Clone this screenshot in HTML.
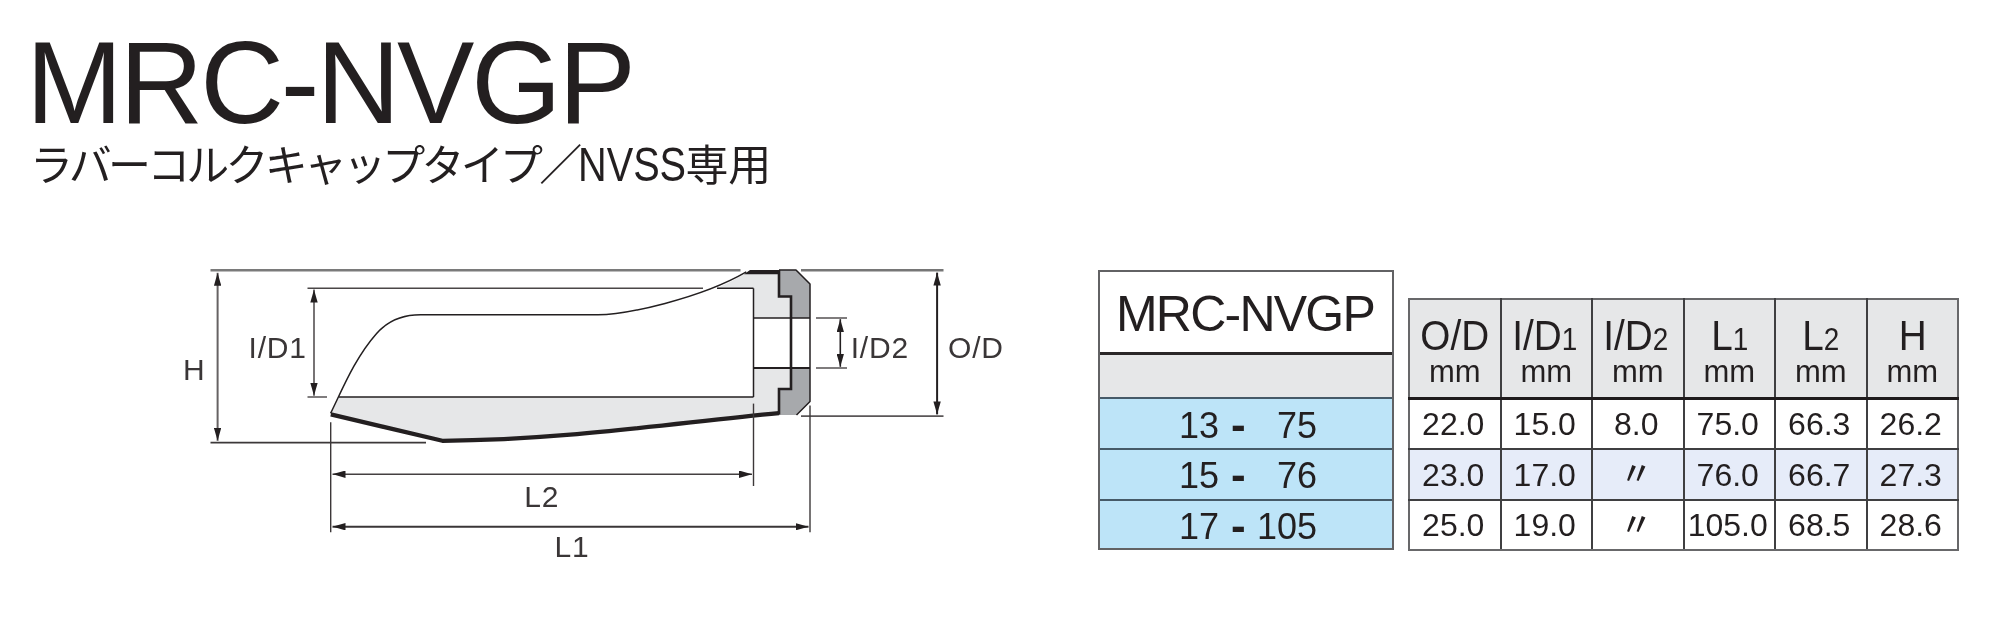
<!DOCTYPE html>
<html lang="ja">
<head>
<meta charset="utf-8">
<title>MRC-NVGP</title>
<style>
  html, body { margin: 0; padding: 0; background: #ffffff; }
  body { width: 2000px; height: 620px; position: relative; overflow: hidden;
         font-family: "Liberation Sans", "Noto Sans CJK JP", sans-serif; color: #231f20; }
  .abs { position: absolute; white-space: nowrap; will-change: transform; }

  /* ---------- heading ---------- */
  #title { left: 25.5px; top: 23px; font-size: 116px; line-height: 120px; letter-spacing: -3.1px; color: #231f20; }
  #subtitle { left: 29.5px; top: 132px; font-size: 43px; line-height: 64px; color: #231f20; font-weight: 400; }
  #subtitle .kana { letter-spacing: -3.8px; }
  #subtitle .lat { display: inline-block; font-size: 49px; transform-origin: 0 100%; transform: scaleX(0.81);
                   width: 107px; vertical-align: baseline; }
  #subtitle .kanji { letter-spacing: 0px; }

  /* ---------- diagram ---------- */
  #diagram { left: 0; top: 0; width: 2000px; height: 620px; }
  #diagram text { font-family: "Liberation Sans", sans-serif; font-size: 30px; letter-spacing: 0.8px; fill: #3a3637; }

  /* ---------- left (model) table ---------- */
  #models { left: 1098px; top: 270px; width: 296px; height: 280px; box-sizing: border-box;
            border: 2px solid #626264; background: #fff; }
  #models .name { position: absolute; left: 0; top: 0; width: 100%; height: 80px; background: #fff;
                  font-size: 50px; line-height: 85px; letter-spacing: -1.75px; text-indent: -2px; text-align: center; color: #231f20; }
  #models .blank { position: absolute; left: 0; top: 80px; width: 100%; height: 45px; background: #e6e7e8;
                   border-top: 3px solid #2a2728; box-sizing: border-box; }
  #models .row { position: absolute; left: 0; width: 100%; height: 50px; background: #bde4f8;
                 border-top: 2px solid #465a68; box-sizing: border-box;
                 font-size: 36px; line-height: 54px; color: #231f20; }
  #models .row span { position: absolute; top: 0; }
  #models .row b { position: absolute; top: -1px; font-weight: 700; font-size: 44px; }

  /* ---------- right (spec) table ---------- */
  #specs { left: 1407.5px; top: 298px; border-collapse: collapse; table-layout: fixed; width: 551px; }
  #specs td, #specs th { border: 2px solid #3f3f41; padding: 0; text-align: center; font-weight: 400;
                         width: 91.5px; box-sizing: border-box; }
  #specs th { height: 99px; background: #e6e7e8; vertical-align: top; border-bottom: 3px solid #1f1b1c; }
  #specs th .sym { display: block; font-size: 43px; line-height: 42px; margin-top: 14px; position: relative; white-space: nowrap;
                   transform: scaleX(0.9); transform-origin: 50% 50%; }
  #specs th .sym small { font-size: 31px; line-height: 0; }
  #specs th .unit { display: block; font-size: 31px; line-height: 32px; }
  #specs td { height: 50px; font-size: 32px; line-height: 48px; padding-right: 3px; background: #fff; }
  #specs tr.alt td { background: #e6ecf9; }
  #specs td.same { font-size: 32px; font-weight: 500; line-height: 35px; }
  #specs tr > :first-child { border-left-color: #68686a; }
  #specs tr > :last-child { border-right-color: #68686a; }
  #specs tr:first-child > th { border-top-color: #68686a; }
  #specs tr:last-child > td { border-bottom-color: #68686a; }
</style>
</head>
<body>

<div id="title" class="abs">MRC-NVGP</div>
<div id="subtitle" class="abs"><span class="kana">ラバーコルクキャップタイプ／</span><span class="lat">NVSS</span><span class="kanji">専用</span></div>

<svg id="diagram" class="abs" viewBox="0 0 2000 620">
  <defs>
    <marker id="ah" viewBox="0 0 13 7.4" refX="13" refY="3.7" markerWidth="13" markerHeight="7.4"
            markerUnits="userSpaceOnUse" orient="auto-start-reverse">
      <path d="M0,0 L13,3.7 L0,7.4 Z" fill="#231f20"/>
    </marker>
  </defs>

  <!-- fills -->
  <g stroke="none">
    <!-- lower light-gray wall -->
    <path fill="#e6e7e8" d="M338.9,397 L753.5,397 L753.5,368 L791,368 L791,389 L779,389 L779,413.1
             C672,423.2 564.4,440 442.4,440.8 L330.8,414.4 Z"/>
    <!-- upper light-gray wall -->
    <path fill="#e6e7e8" d="M717,288.3 Q733,281 748,272 L779,272 L779,296.5 L791,296.5 L791,318 L753.5,318 L753.5,288.3 Z"/>
    <!-- dark cap, upper -->
    <path fill="#a7a9ac" d="M779,270 L796,270 L810,284 L810,318 L791,318 L791,296.5 L779,296.5 Z"/>
    <!-- dark cap, lower -->
    <path fill="#a7a9ac" d="M791,368 L810,368 L810,401.5 L796.5,415 L779,415 L779,389 L791,389 Z"/>
  </g>

  <!-- thin outlines -->
  <g fill="none" stroke="#231f20" stroke-width="1.5" stroke-linecap="butt" stroke-linejoin="round">
    <!-- upper profile curve -->
    <path d="M330.6,413.4 C343,388 355,358 376.6,333.5 C387.4,321.3 402,314.8 420.6,314.8 L598,314.8
             C625,314.8 700.3,298.7 746.3,271.9"/>
    <!-- bore bottom / I/D1 lower -->
    <path d="M338.9,397 L753.5,397"/>
    <!-- bore end vertical -->
    <path d="M753.5,288.3 L753.5,397"/>
    <!-- bore top short -->
    <path d="M717,288.3 L753.5,288.3"/>
    <!-- cap outline right -->
    <path d="M779,270 L796,270 L810,284 L810,401.5 L796.5,415"/>
    <path d="M753.5,318 L810,318"/>
  </g>
  <g fill="none" stroke="#231f20" stroke-width="2">
    <path d="M753.5,368 L810,368"/>
  </g>

  <!-- heavy outlines -->
  <g fill="none" stroke="#231f20" stroke-linejoin="miter" stroke-linecap="butt">
    <path stroke-width="4.2" stroke-linejoin="round" d="M330.8,414.4 L442.4,440.8 C564.4,440 672,423.2 779,413.1"/>
    <path stroke="none" fill="#231f20" d="M744,274.2 L750,270 L779,270 L779,274.2 Z"/>
    <path stroke-width="2.6" d="M779,270 L779,296.5 L791,296.5 L791,389 L779,389 L779,414.5"/>
  </g>

  <!-- dimension / extension lines -->
  <g fill="none">
    <!-- H -->
    <path stroke="#7a7a7a" stroke-width="2.4" d="M210.5,270.3 L740.5,270.3"/>
    <path stroke="#3c3839" stroke-width="1.6" d="M210.5,442.6 L426,442.6"/>
    <!-- I/D1 -->
    <path stroke="#4a4647" stroke-width="1.4" d="M307.5,288.3 L703,288.3"/>
    <path stroke="#4a4647" stroke-width="1.4" d="M307.5,397 L327,397"/>
    <!-- O/D -->
    <path stroke="#767676" stroke-width="2.4" d="M801,270.3 L943.5,270.3"/>
    <path stroke="#5a5657" stroke-width="1.8" d="M801,416.1 L943.5,416.1"/>
    <!-- I/D2 -->
    <path stroke="#555152" stroke-width="1.5" d="M816,318 L847,318"/>
    <path stroke="#555152" stroke-width="1.5" d="M816,368 L847,368"/>
    <!-- L extension -->
    <path stroke="#3c3839" stroke-width="1.4" d="M330.7,422.3 L330.7,532.3"/>
    <path stroke="#3c3839" stroke-width="1.4" d="M753.5,403.6 L753.5,486"/>
    <path stroke="#3c3839" stroke-width="1.4" d="M810,405.5 L810,532.3"/>
  </g>
  <g fill="none" marker-start="url(#ah)" marker-end="url(#ah)">
    <path stroke="#666263" stroke-width="2" d="M217.6,272.8 L217.6,440.8"/>
    <path stroke="#555152" stroke-width="1.6" d="M314,289.6 L314,395.8"/>
    <path stroke="#231f20" stroke-width="2" d="M937.1,272.6 L937.1,414.4"/>
    <path stroke="#231f20" stroke-width="1.6" d="M840.3,319.2 L840.3,366.8"/>
    <path stroke="#444041" stroke-width="1.5" d="M332.5,474.2 L752,474.2"/>
    <path stroke="#3a3637" stroke-width="2.1" d="M332.5,526.7 L808.5,526.7"/>
  </g>

  <!-- labels -->
  <text x="183.1" y="380.4">H</text>
  <text x="248.5" y="357.5">I/D1</text>
  <text x="850.7" y="357.8">I/D2</text>
  <text x="948.1" y="357.8">O/D</text>
  <text x="524.3" y="507">L2</text>
  <text x="554.5" y="556.7">L1</text>
</svg>

<!-- model table -->
<div id="models" class="abs">
  <div class="name">MRC-NVGP</div>
  <div class="blank"></div>
  <div class="row" style="top:125px;height:51px"><span style="left:79px">13</span><b style="left:131px">-</b><span style="left:177px">75</span></div>
  <div class="row" style="top:176px;height:51px;line-height:52px"><span style="left:79px">15</span><b style="left:131px">-</b><span style="left:177px">76</span></div>
  <div class="row" style="top:227px;height:49px;line-height:52px"><span style="left:79px">17</span><b style="left:131px">-</b><span style="left:157px">105</span></div>
</div>

<!-- spec table -->
<table id="specs" class="abs">
  <tr>
    <th><span class="sym">O/D</span><span class="unit">mm</span></th>
    <th><span class="sym" style="left:-2px">I/D<small>1</small></span><span class="unit">mm</span></th>
    <th><span class="sym" style="left:-2px">I/D<small>2</small></span><span class="unit">mm</span></th>
    <th><span class="sym">L<small>1</small></span><span class="unit">mm</span></th>
    <th><span class="sym">L<small>2</small></span><span class="unit">mm</span></th>
    <th><span class="sym">H</span><span class="unit">mm</span></th>
  </tr>
  <tr><td style="height:51px">22.0</td><td>15.0</td><td>8.0</td><td>75.0</td><td>66.3</td><td>26.2</td></tr>
  <tr class="alt"><td style="height:51px">23.0</td><td>17.0</td><td class="same">〃</td><td>76.0</td><td>66.7</td><td>27.3</td></tr>
  <tr><td>25.0</td><td>19.0</td><td class="same">〃</td><td>105.0</td><td>68.5</td><td>28.6</td></tr>
</table>

</body>
</html>
